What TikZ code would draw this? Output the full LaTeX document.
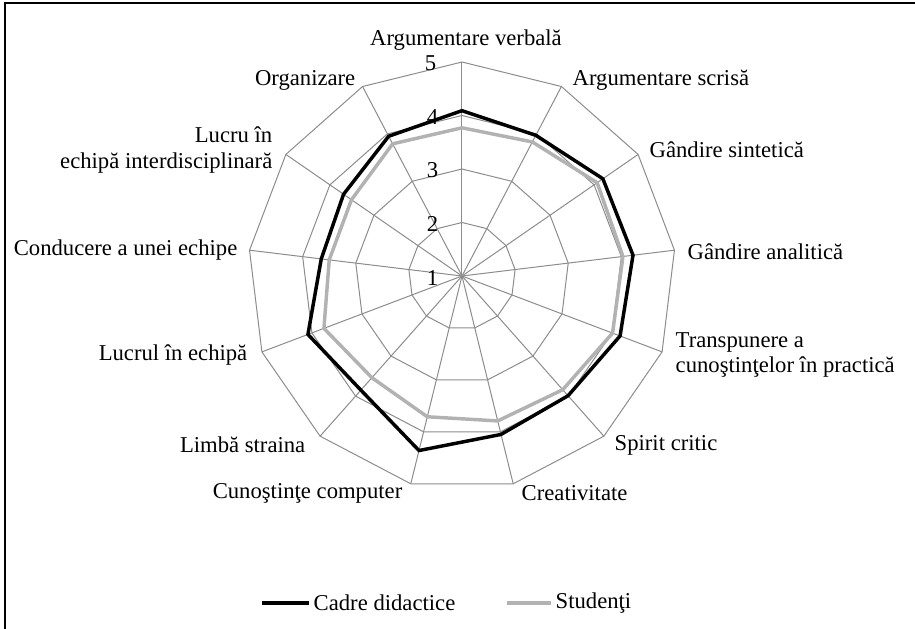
\documentclass[tikz,border=0pt]{standalone}
\usepackage{fontspec}
\setmainfont{Liberation Serif}
\usetikzlibrary{positioning}
\definecolor{RadarGrid}{HTML}{8C8C8C}
\definecolor{RadarCadre}{HTML}{000000}
\definecolor{RadarStud}{HTML}{B2B2B2}

\begin{document}
\begin{tikzpicture}[x=0.75pt,y=0.75pt,font=\fontsize{17}{19}\selectfont]
\useasboundingbox (-462,-353) rectangle (453,276);
\draw[line width=1.2pt] (-457,-353) -- (-457,273) -- (453,273);
% spokes and rings
\foreach \k in {0,...,12}{
  \coordinate (o\k) at ({90-\k*360/13}:214);
  \draw[RadarGrid, line width=0.75pt] (0,0) -- (o\k);
}
\foreach \lev in {2,...,5}{
  \draw[RadarGrid, line width=0.75pt] (90:{(\lev-1)*53.5})
    \foreach \k in {1,...,12}{ -- ({90-\k*360/13}:{(\lev-1)*53.5}) } -- cycle;
}
% scale
\node[anchor=east] (s1) at (-19,-2) {1};
\node[anchor=east] (s2) at (-19,52) {2};
\node[anchor=east] (s3) at (-19,106) {3};
\node[anchor=east] (s4) at (-19,159) {4};
\node[anchor=east] (s5) at (-21,213) {5};
% series
\draw[RadarStud, line width=2.6pt] (90:{(3.77-1)*53.5})
  \foreach \v [count=\k] in {3.83,4.07,4.03,4.01,3.84,3.79,3.71,3.54,3.76,3.5,3.51,3.79}{ -- ({90-\k*360/13}:{(\v-1)*53.5}) } -- cycle;
\draw[RadarCadre, line width=2.6pt] (90:{(4.09-1)*53.5})
  \foreach \v [count=\k] in {3.97,4.2,4.22,4.16,3.99,4.05,4.36,3.85,4.08,3.65,3.69,3.95}{ -- ({90-\k*360/13}:{(\v-1)*53.5}) } -- cycle;
% axis labels
\node (a0) at (4,236) {Argumentare verbală};
\node[anchor=west] (a1) at (106,196) {Argumentare scrisă};
\node[anchor=west] (a2) at (183,126) {Gândire sintetică};
\node[anchor=west] (a3) at (221,24) {Gândire analitică};
\node[anchor=west, align=left] (a4) at (209,-79) {Transpunere a\\cunoştinţelor în practică};
\node[anchor=west] (a5) at (148,-169) {Spirit critic};
\node[anchor=west] (a6) at (55,-217) {Creativitate};
\node[anchor=east] (a7) at (-55,-217) {Cunoştinţe computer};
\node[anchor=east] (a8) at (-152,-169) {Limbă straina};
\node[anchor=east] (a9) at (-210,-79) {Lucrul în echipă};
\node[anchor=east] (a10) at (-220,26) {Conducere a unei echipe};
\node[anchor=east, align=right] (a11) at (-185,126) {Lucru în\\echipă interdisciplinară};
\node[anchor=east] (a12) at (-102,196) {Organizare};
% legend
\node[anchor=west] (lcadre) at (-153,-327) {Cadre didactice};
\node[anchor=west] (lstud) at (89,-327) {Studenţi};
\coordinate (lc0) at (-200,-327);
\coordinate (ls0) at (45,-327);
\draw[RadarCadre, line width=2.6pt] (lc0) -- (lcadre.west);
\draw[RadarStud, line width=2.6pt] (ls0) -- (lstud.west);
\end{tikzpicture}
\end{document}
